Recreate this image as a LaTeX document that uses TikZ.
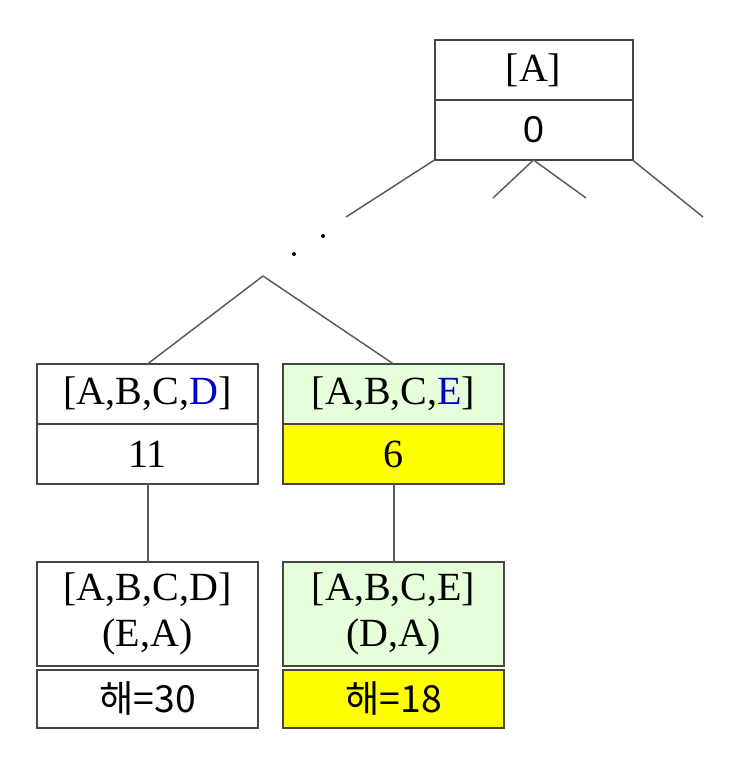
\documentclass[tikz,border=0pt]{standalone}
\usepackage{fontspec}
\setmainfont{Liberation Serif}
\setsansfont{Liberation Sans}
\newfontfamily\kofont{Noto Sans CJK KR}
\usepackage{xcolor}
\usepackage{tikz}
\usetikzlibrary{positioning}
\definecolor{treegray}{RGB}{90,90,90}
\definecolor{boxgray}{RGB}{70,70,70}
\definecolor{pathblue}{RGB}{0,0,205}
\definecolor{pathgreen}{RGB}{230,255,218}
\definecolor{costyellow}{RGB}{255,255,0}

\begin{document}
\begin{tikzpicture}[x=0.75pt,y=-0.75pt,
  cell/.style={draw=boxgray,line width=1.5pt,outer sep=0pt,inner sep=0pt,align=center,font=\fontsize{30}{34}\selectfont},
  smallcell/.style={cell,minimum width=148.5pt,minimum height=45pt},
  widecell/.style={cell,minimum width=165.75pt,minimum height=45pt},
  solcell/.style={cell,minimum width=165.75pt,minimum height=78pt},
  valcell/.style={cell,minimum width=165.75pt,minimum height=43.5pt,font=\kofont\fontsize{28}{32}\selectfont},
  branch/.style={treegray,line width=1.1pt},
  stem/.style={treegray,line width=1.5pt},
  dot/.style={circle,fill=black,inner sep=0pt,minimum size=3pt}]
  \useasboundingbox (0,0) rectangle (736,762);

  % root
  \node[smallcell] (rootlist) at (533.5,70) {[A]};
  \node[smallcell,below=0pt of rootlist,font=\sffamily\fontsize{28}{32}\selectfont] (rootcost) {0};
  \coordinate (farleft) at (346,217);
  \coordinate (midleft) at (493,198);
  \coordinate (midright) at (586,198);
  \coordinate (farright) at (703,217);
  \draw[branch] (rootcost.south west) -- (farleft);
  \draw[branch] (rootcost.south) -- (midleft);
  \draw[branch] (rootcost.south) -- (midright);
  \draw[branch] (rootcost.south east) -- (farright);

  % dots
  \node[dot] (dotone) at (294,254) {};
  \node[dot] (dottwo) at (323,236) {};

  % level with D / E
  \coordinate (apex) at (263,276);
  \node[widecell] (dlist) at (147.5,394) {[A,B,C,\textcolor{pathblue}{D}]};
  \node[widecell,below=0pt of dlist] (dcost) {11};
  \node[widecell,fill=pathgreen,right=18.75pt of dlist] (elist) {[A,B,C,\textcolor{pathblue}{E}]};
  \node[widecell,fill=costyellow,below=0pt of elist] (ecost) {6};
  \draw[branch] (apex) -- (dlist.north);
  \draw[branch] (apex) -- (elist.north);

  % complete tours
  \node[solcell,below=58.5pt of dcost] (dtour) {[A,B,C,D]\\(E,A)};
  \node[valcell,below=3pt of dtour] (dval) {해=30};
  \node[solcell,fill=pathgreen,below=58.5pt of ecost] (etour) {[A,B,C,E]\\(D,A)};
  \node[valcell,fill=costyellow,below=3pt of etour] (eval) {해=18};
  \draw[stem] (dcost.south) -- (dtour.north);
  \draw[stem] (ecost.south) -- (etour.north);
\end{tikzpicture}
\end{document}
